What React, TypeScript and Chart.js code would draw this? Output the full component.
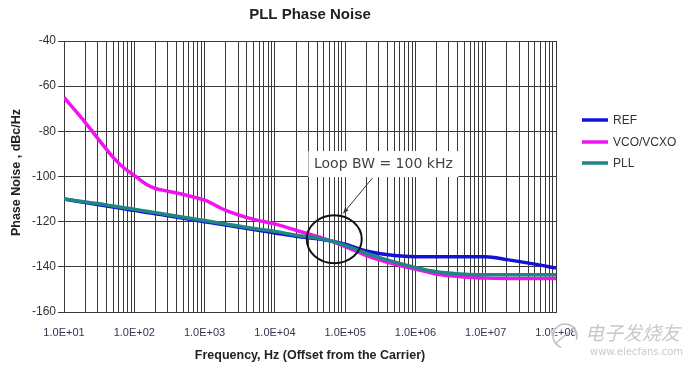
import React, { useEffect, useRef } from 'react';
import { Chart, registerables } from 'chart.js';

Chart.register(...registerables);

// ---- data ----
const frequencies = [10, 20, 30, 50, 70, 100, 150, 200, 300, 500, 1e3, 2e3, 5e3, 1e4, 2e4, 5e4, 1e5, 2e5, 5e5, 1e6, 2e6, 5e6, 1e7, 2e7, 5e7, 1e8];
const refNoise = [-110, -111.5, -112.4, -113.5, -114.3, -115, -115.9, -116.5, -117.4, -118.5, -120, -121.5, -123.5, -125, -126.5, -128, -130, -133, -135, -135.5, -135.5, -135.5, -135.5, -136.8, -138.8, -140.5];
const vcoNoise = [-65, -76, -83, -91.5, -96, -99.5, -103.5, -105.3, -106.5, -108, -110.5, -115, -119, -121, -123.8, -127.5, -131, -135, -138.8, -141, -143.2, -144.5, -145, -145.2, -145.2, -145.2];
const pllNoise = [-110, -111.3, -112, -113.1, -113.8, -114.5, -115.4, -116, -116.9, -118, -119.5, -121, -123, -124.3, -126, -127.8, -130.5, -134, -137.8, -140.3, -142.2, -143.3, -143.5, -143.5, -143.5, -143.5];
const seriesNames = ['REF', 'VCO/VCXO', 'PLL'];
const seriesColors = ['#1212d6', '#f012f0', '#1f8585'];
const xTickLabels = ['1.0E+01', '1.0E+02', '1.0E+03', '1.0E+04', '1.0E+05', '1.0E+06', '1.0E+07', '1.0E+08'];
const yMin = -160;
const yMax = -40;
const yStep = 20;
const titleText = 'PLL Phase Noise';
const xTitle = 'Frequency, Hz (Offset from the Carrier)';
const yTitle = 'Phase Noise , dBc/Hz';
const annotationText = 'Loop BW = 100 kHz';

const FONT = '"Liberation Sans", Arial, sans-serif';

export default function App() {
  const canvasRef = useRef<HTMLCanvasElement>(null);

  useEffect(() => {
    const canvas = canvasRef.current;
    if (!canvas) return;
    const mk = (vals: number[]) => frequencies.map((f, i) => ({ x: f, y: vals[i] }));
    const allSeries = [refNoise, vcoNoise, pllNoise];

    const overlay = {
      id: 'overlay',
      afterDraw(chart: any) {
        const ctx = chart.ctx as CanvasRenderingContext2D;
        const { left, right, top, bottom } = chart.chartArea;
        const xs = chart.scales.x;
        const ys = chart.scales.y;
        ctx.save();

        // title
        ctx.fillStyle = '#222';
        ctx.font = `bold 15px ${FONT}`;
        ctx.textAlign = 'center';
        ctx.textBaseline = 'middle';
        ctx.fillText(titleText, (left + right) / 2, 15);

        // axis titles
        ctx.font = `bold 12.5px ${FONT}`;
        ctx.fillText(xTitle, (left + right) / 2, 356);
        ctx.save();
        ctx.translate(17, (top + bottom) / 2 - 4);
        ctx.rotate(-Math.PI / 2);
        ctx.fillText(yTitle, 0, 0);
        ctx.restore();

        // legend
        const legendY = [120, 142, 163];
        ctx.font = `12px ${FONT}`;
        ctx.textAlign = 'left';
        seriesNames.forEach((name, i) => {
          ctx.strokeStyle = seriesColors[i];
          ctx.lineWidth = 3.5;
          ctx.beginPath();
          ctx.moveTo(582, legendY[i]);
          ctx.lineTo(608, legendY[i]);
          ctx.stroke();
          ctx.fillStyle = '#333';
          ctx.fillText(name, 613, legendY[i] + 1);
        });

        // annotation
        const cx = xs.getPixelForValue(7e4);
        const cy = ys.getPixelForValue(-127.8);
        const bx = xs.getPixelForValue(3.5e5);
        const by = ys.getPixelForValue(-94.5);
        ctx.fillStyle = '#fff';
        ctx.fillRect(bx - 75, by - 13, 150, 26);
        ctx.fillStyle = '#444';
        ctx.font = '14px "DejaVu Sans", sans-serif';
        ctx.textAlign = 'center';
        ctx.fillText(annotationText, bx, by);

        // arrow
        const ax1 = bx - 11, ay1 = by + 14;
        const ax2 = cx + 9, ay2 = cy - 26;
        ctx.strokeStyle = '#333';
        ctx.lineWidth = 1;
        ctx.beginPath();
        ctx.moveTo(ax1, ay1);
        ctx.lineTo(ax2, ay2);
        ctx.stroke();
        const ang = Math.atan2(ay2 - ay1, ax2 - ax1);
        ctx.fillStyle = '#333';
        ctx.beginPath();
        ctx.moveTo(ax2, ay2);
        ctx.lineTo(ax2 - 6 * Math.cos(ang - 0.4), ay2 - 6 * Math.sin(ang - 0.4));
        ctx.lineTo(ax2 - 6 * Math.cos(ang + 0.4), ay2 - 6 * Math.sin(ang + 0.4));
        ctx.closePath();
        ctx.fill();

        // ellipse
        ctx.strokeStyle = '#111';
        ctx.lineWidth = 2;
        ctx.beginPath();
        ctx.ellipse(cx, cy, 27.5, 24, 0, 0, Math.PI * 2);
        ctx.stroke();

        // watermark
        ctx.globalAlpha = 0.75;
        ctx.strokeStyle = '#fff';
        ctx.lineWidth = 4;
        ctx.beginPath();
        ctx.arc(565, 336, 12, Math.PI * 0.6, Math.PI * 2.1);
        ctx.stroke();
        ctx.strokeStyle = '#aaa';
        ctx.lineWidth = 1.5;
        ctx.beginPath();
        ctx.arc(565, 336, 12, Math.PI * 0.6, Math.PI * 2.1);
        ctx.stroke();
        ctx.beginPath();
        ctx.moveTo(556, 343);
        ctx.lineTo(575, 327);
        ctx.stroke();
        ctx.font = 'italic 19px "Noto Sans CJK SC", sans-serif';
        ctx.textAlign = 'left';
        ctx.lineWidth = 3;
        ctx.strokeStyle = '#fff';
        ctx.strokeText('电子发烧友', 585, 333);
        ctx.fillStyle = '#b5b5b5';
        ctx.fillText('电子发烧友', 585, 333);
        ctx.font = '10px "DejaVu Sans", sans-serif';
        ctx.fillStyle = '#b8b8b8';
        ctx.fillText('www.elecfans.com', 590, 352);
        ctx.restore();
      },
    };

    const chart = new Chart(canvas, {
      type: 'line',
      data: {
        datasets: allSeries.map((vals, i) => ({
          label: seriesNames[i],
          data: mk(vals),
          borderColor: seriesColors[i],
          backgroundColor: seriesColors[i],
          borderWidth: 3.5,
          pointRadius: 0,
          cubicInterpolationMode: 'monotone' as const,
          fill: false,
          order: i === 2 ? 0 : i === 1 ? 1 : 2,
        })),
      },
      options: {
        animation: false,
        responsive: true,
        maintainAspectRatio: false,
        layout: { padding: { top: 41, right: 128, left: 0, bottom: 0 } },
        plugins: {
          legend: { display: false },
          title: { display: false },
          tooltip: { enabled: false },
        },
        scales: {
          x: {
            type: 'logarithmic',
            min: 10,
            max: 1e8,
            afterFit(scale: any) {
              scale.height = 56;
            },
            afterBuildTicks(scale: any) {
              const ticks: { value: number }[] = [];
              for (let e = 1; e < 8; e++) {
                for (let m = 1; m <= 9; m++) ticks.push({ value: m * Math.pow(10, e) });
              }
              ticks.push({ value: 1e8 });
              scale.ticks = ticks;
            },
            grid: { color: '#3a3a3a', lineWidth: 1, drawTicks: false },
            border: { color: '#3a3a3a' },
            ticks: {
              autoSkip: false,
              maxRotation: 0,
              minRotation: 0,
              padding: 14,
              color: '#3c3050',
              font: { family: FONT, size: 11 },
              callback(value: any) {
                const v = Number(value);
                const e = Math.log10(v);
                if (Math.abs(e - Math.round(e)) < 1e-9) return xTickLabels[Math.round(e) - 1];
                return '';
              },
            },
          },
          y: {
            type: 'linear',
            min: yMin,
            max: yMax,
            afterFit(scale: any) {
              scale.width = 64;
            },
            grid: { color: '#3a3a3a', lineWidth: 1, tickLength: 6 },
            border: { color: '#3a3a3a' },
            ticks: {
              stepSize: yStep,
              padding: 2,
              color: '#333',
              font: { family: FONT, size: 12 },
            },
          },
        },
      },
      plugins: [overlay],
    });
    return () => chart.destroy();
  }, []);

  return (
    <div style={{ position: 'absolute', left: 0, top: 0, width: 684, height: 368, background: '#fff' }}>
      <canvas ref={canvasRef} />
    </div>
  );
}
